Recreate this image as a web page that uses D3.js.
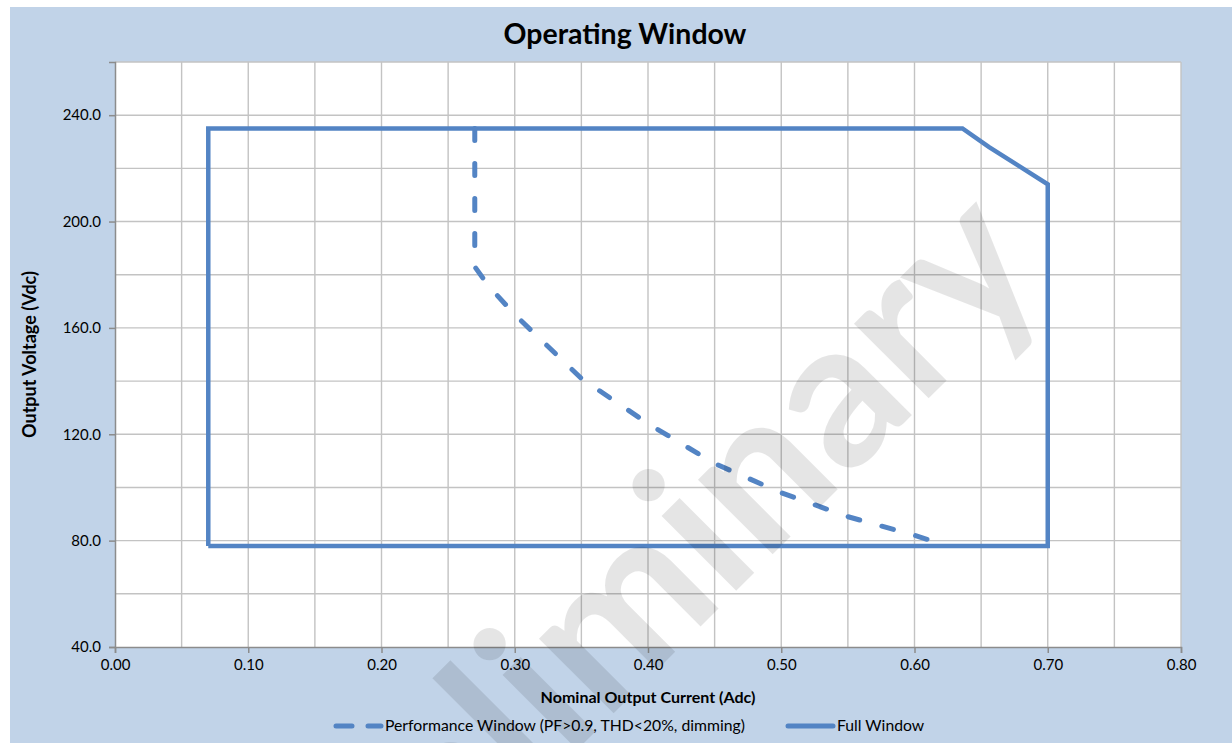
<!DOCTYPE html>
<html><head><meta charset="utf-8">
<script src="https://cdn.jsdelivr.net/npm/d3@7"></script>
<style>
html,body{margin:0;padding:0;background:#fff;}
svg{display:block;}
text{font-family:Lato,"Open Sans",sans-serif;fill:#000;}
</style></head>
<body>
<svg id="chart" width="1232" height="743"></svg>
<script>
// ---- data ----
const titleText = "Operating Window";
const xTicks = [0.00,0.10,0.20,0.30,0.40,0.50,0.60,0.70,0.80];
const yTicks = [40,80,120,160,200,240];
const xGrid = [0,0.05,0.10,0.15,0.20,0.25,0.30,0.35,0.40,0.45,0.50,0.55,0.60,0.65,0.70,0.75,0.80];
const yGrid = [40,60,80,100,120,140,160,180,200,220,240,260];
const perfName = "Performance Window (PF>0.9, THD<20%, dimming)";
const perfX = [0.27,0.27,0.28,0.30,0.35,0.40,0.45,0.50,0.55,0.60,0.625];
const perfY = [235,183,176,165,141,124,109,98,89,82,78];
const fullName = "Full Window";
const fullX = [0.07,0.07,0.636,0.656,0.70,0.70,0.07];
const fullY = [78,235,235,228,214,78,78];
const xTitle = "Nominal Output Current (Adc)";
const yTitle = "Output Voltage (Vdc)";
const watermark = "Preliminary";

const svg = d3.select("#chart");
const blue = "#5384c4";
const bg = "#c1d3e8";

svg.append("rect").attr("x",10).attr("y",7).attr("width",1222).attr("height",736).attr("fill",bg);

const x = d3.scaleLinear().domain([0,0.8]).range([115,1181]);
const y = d3.scaleLinear().domain([40,260]).range([647,62]);

svg.append("rect").attr("x",x(0)).attr("y",y(260)).attr("width",x(0.8)-x(0)).attr("height",y(40)-y(260)).attr("fill","#fff");

// grid
const grid = svg.append("g").attr("stroke","#c3c3c3").attr("stroke-width",1.4);
grid.selectAll("line.v").data(xGrid.filter(d=>d>0)).join("line")
  .attr("x1",d=>x(d)).attr("x2",d=>x(d)).attr("y1",y(40)).attr("y2",y(260));
grid.selectAll("line.h").data(yGrid.filter(d=>d>40)).join("line")
  .attr("y1",d=>y(d)).attr("y2",d=>y(d)).attr("x1",x(0)).attr("x2",x(0.8));

// axes
const xAxis = d3.axisBottom(x).tickValues(xTicks).tickFormat(d3.format(".2f")).tickSize(6).tickPadding(6);
const yAxis = d3.axisLeft(y).tickValues(yTicks).tickFormat(d3.format(".1f")).tickSize(6).tickPadding(8);
const gx = svg.append("g").attr("transform",`translate(0,${y(40)})`).call(xAxis);
const gy = svg.append("g").attr("transform",`translate(${x(0)},0)`).call(yAxis);
[gx,gy].forEach(g=>{
  g.select(".domain").attr("stroke","#8c8c8c").attr("stroke-width",1.5);
  g.selectAll(".tick line").attr("stroke","#8c8c8c").attr("stroke-width",1.5);
  g.selectAll(".tick text").attr("font-family","Lato, sans-serif").attr("font-size",15).attr("fill","#1a1a1a");
});

// lines
const line = d3.line().x(d=>x(d[0])).y(d=>y(d[1]));
svg.append("path").datum(fullX.map((v,i)=>[v,fullY[i]]))
  .attr("d",line).attr("fill","none").attr("stroke",blue).attr("stroke-width",4.5)
  .attr("stroke-linejoin","miter");
svg.append("path").datum(perfX.map((v,i)=>[v,perfY[i]]))
  .attr("d",line).attr("fill","none").attr("stroke",blue).attr("stroke-width",5)
  .attr("stroke-linecap","round").attr("stroke-dasharray","12,23");

// titles
function fit(t, w){ const l=t.node().getComputedTextLength(); const fs=+t.attr("font-size"); t.attr("font-size",fs*w/l); }
const tt = svg.append("text").attr("x",625).attr("y",44).attr("text-anchor","middle")
  .attr("font-weight","bold").attr("font-size",26).text(titleText);
fit(tt,243);
const xt = svg.append("text").attr("x",648).attr("y",703).attr("text-anchor","middle")
  .attr("font-weight","bold").attr("font-size",14).text(xTitle);
fit(xt,215);
const yt = svg.append("text").attr("transform",`translate(36,${(y(40)+y(260))/2}) rotate(-90)`).attr("text-anchor","middle")
  .attr("font-weight","bold").attr("font-size",14).text(yTitle);
fit(yt,167);

// legend
const lg = svg.append("g");
lg.append("line").attr("x1",336).attr("x2",381).attr("y1",726).attr("y2",726)
  .attr("stroke",blue).attr("stroke-width",5).attr("stroke-linecap","round").attr("stroke-dasharray","16,16");
const l1 = lg.append("text").attr("x",385).attr("y",731).attr("font-size",15).text(perfName);
fit(l1,360);
const lfs = +l1.attr("font-size");
lg.append("line").attr("x1",788).attr("x2",833).attr("y1",726).attr("y2",726)
  .attr("stroke",blue).attr("stroke-width",5).attr("stroke-linecap","round");
lg.append("text").attr("x",837).attr("y",731).attr("font-size",lfs).text(fullName);

// watermark
svg.append("text").attr("transform","translate(1051,276) rotate(-45)")
  .attr("text-anchor","end").attr("font-family","Liberation Sans, Arial, sans-serif")
  .attr("font-weight","bold").attr("font-size",206).attr("fill","#000").attr("fill-opacity",0.1)
  .text(watermark);
</script>
</body></html>
